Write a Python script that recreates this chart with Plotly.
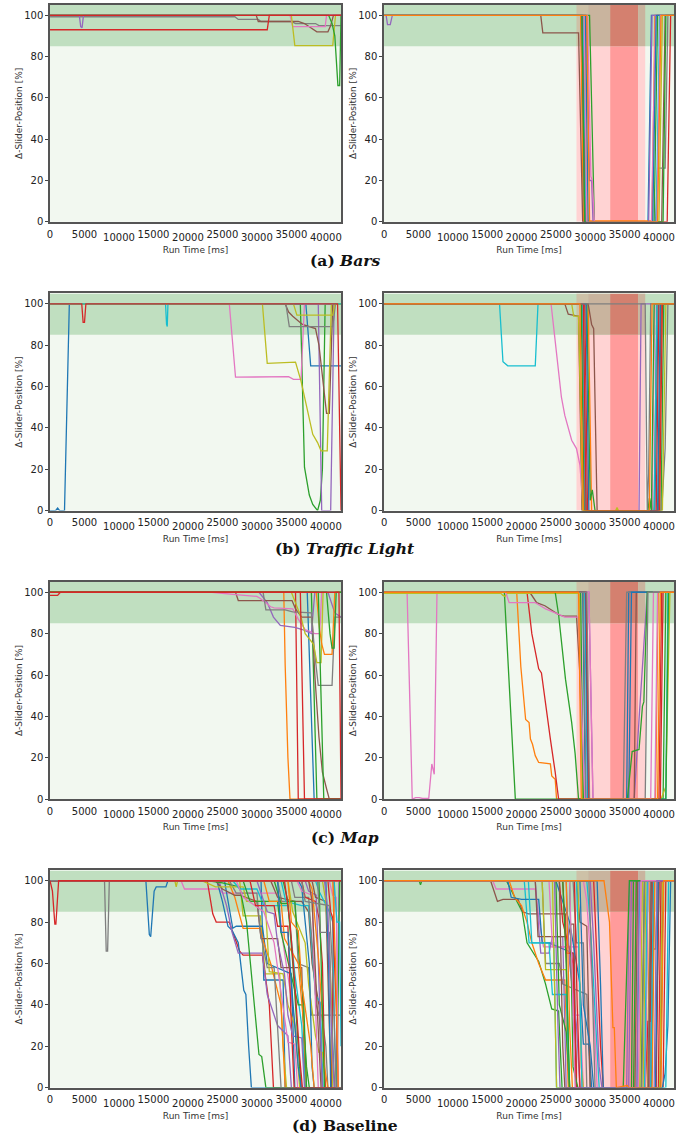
import plotly.graph_objects as go

# ---------------- data (time in seconds, value in %) ----------------
TAB10 = {"C0": "#1f77b4", "C1": "#ff7f0e", "C2": "#2ca02c", "C3": "#d62728", "C4": "#9467bd",
         "C5": "#8c564b", "C6": "#e377c2", "C7": "#7f7f7f", "C8": "#bcbd22", "C9": "#17becf"}

y_ticks = [0, 20, 40, 60, 80, 100]
x_ticks_upper = [0, 5000, 15000, 25000, 35000]
x_ticks_lower = [10000, 20000, 30000, 40000]
captions = ["<b>(a) <i>Bars</i></b>", "<b>(b) <i>Traffic Light</i></b>",
            "<b>(c) <i>Map</i></b>", "<b>(d) Baseline</b>"]
comfort_band = [85, 105]
warn_zone_s = [28.0, 38.0]
crit_zone_s = [32.9, 37.0]
warn_split_s = 29.7

# (a) Bars - left
bars_free_runs = [
    ([0, 42.2], [100, 100]),
    ([0, 42.2], [100, 100]),
    ([0, 42.2], [100, 100]),
    ([0, 26.8, 27.3, 30.2, 30.6, 35.0, 35.6, 38.5, 39.0, 42.2], [99.3, 99.3, 98, 98, 97, 97, 96, 96, 95, 95]),
    ([0, 29.9, 30.2, 36.0, 36.9, 37.9, 38.7, 40.3, 40.7, 41.1, 42.2], [100, 100, 97, 97, 96, 94, 92, 92, 95, 100, 100]),
    ([0, 34.8, 35.2, 39.9, 40.1, 42.2], [100, 100, 94.5, 94.5, 100, 100]),
    ([0, 35.0, 35.5, 41.0, 41.4, 42.2], [100, 100, 85.3, 85.3, 100, 100]),
    ([0, 4.25, 4.45, 4.65, 4.85, 42.2], [100, 100, 94.5, 94, 100, 100]),
    ([0, 40.4, 40.9, 41.3, 41.75, 42.0, 42.2], [100, 100, 96, 90, 66, 66, 100]),
    ([0, 31.5, 31.8, 42.2], [93, 93, 100, 100]),
    ([0, 42.2], [100, 100]),
]
bars_free_colors = ["C0", "C1", "C9", "C7", "C5", "C6", "C8", "C4", "C2", "C3", "C3"]

# (a) Bars - right
bars_crit_runs = [
    ([0, 28.7, 29.1, 38.4, 38.9, 42.2], [100, 100, 0, 0, 100, 100]),
    ([0, 28.6, 29.0, 39.0, 39.4, 42.2], [100, 100, 0.5, 0.5, 100, 100]),
    ([0, 29.9, 30.6, 39.3, 39.8, 42.2], [100, 100, 0, 0, 100, 100]),
    ([0, 28.9, 29.3, 41.2, 41.7, 42.2], [100, 100, 0, 0, 100, 100]),
    ([0, 0.3, 0.5, 0.9, 1.2, 29.4, 29.9, 30.2, 30.4, 38.5, 39.0, 42.2], [100, 100, 95.5, 95.5, 100, 100, 20, 20, 0, 0, 100, 100]),
    ([0, 22.8, 23.1, 28.3, 28.9, 40.4, 40.9, 42.2], [100, 100, 91.5, 91.5, 0, 0, 100, 100]),
    ([0, 29.6, 30.1, 30.3, 30.6, 38.9, 39.5, 42.2], [100, 100, 22, 20, 0, 0, 100, 100]),
    ([0, 29.1, 29.5, 39.5, 39.8, 40.9, 41.3, 42.2], [100, 100, 0, 0, 26, 26, 100, 100]),
    ([0, 29.2, 29.6, 40.0, 40.5, 42.2], [100, 100, 0, 0, 100, 100]),
    ([0, 29.0, 29.4, 39.6, 40.1, 42.2], [100, 100, 0, 0, 100, 100]),
    ([0, 29.3, 29.7, 39.1, 39.6, 42.2], [100, 100, 0, 0, 100, 100]),
    ([0, 28.8, 29.2, 40.6, 41.0, 42.2], [100, 100, 0, 0, 100, 100]),
    ([0, 29.1, 29.5, 39.7, 40.2, 42.2], [100, 100, 0, 0, 100, 100]),
    ([0, 29.5, 29.9, 39.8, 40.3, 42.2], [100, 100, 0, 0, 100, 100]),
]
bars_crit_colors = ["C0", "C1", "C2", "C3", "C4", "C5", "C6", "C7", "C8", "C9", "C0", "C2", "C6", "C1"]

# (b) Traffic Light - left
traffic_free_runs = [
    ([0, 0.8, 1.1, 1.4, 2.1, 2.8, 37.1, 37.8, 42.2], [0, 0, 1.2, 0, 0, 100, 100, 70, 70]),
    ([0, 42.2], [100, 100]),
    ([0, 36.3, 36.9, 37.6, 38.1, 38.8, 39.2, 39.5, 39.9, 42.2], [100, 100, 21, 7.5, 3, 0, 5, 20, 100, 100]),
    ([0, 38.9, 39.4, 40.7, 41.2, 42.2], [100, 100, 0, 0, 100, 100]),
    ([0, 34.1, 34.6, 35.2, 36.6, 37.6, 38.5, 39.0, 39.5, 40.1, 40.5, 40.7, 41.0, 42.2], [100, 100, 96, 94, 90, 89, 88, 80, 65, 47, 47, 70, 100, 100]),
    ([0, 26.0, 26.9, 34.6, 35.3, 36.4, 36.9, 42.2], [100, 100, 64.5, 64.8, 63.5, 63.5, 100, 100]),
    ([0, 34.2, 34.7, 41.0, 41.4, 42.2], [100, 100, 89, 89, 100, 100]),
    ([0, 30.8, 31.5, 35.6, 36.4, 36.9, 37.6, 38.1, 38.8, 39.3, 40.2, 40.8, 42.2], [100, 100, 71.2, 71.8, 62.6, 54.6, 43.4, 36.9, 32.9, 28.9, 28.9, 100, 100]),
    ([0, 35.3, 35.8, 41.0, 41.3, 42.2], [100, 100, 94.5, 94.5, 100, 100]),
    ([0, 16.75, 16.9, 17.0, 17.1, 42.2], [100, 100, 90, 89, 100, 100]),
    ([0, 4.6, 4.8, 5.0, 5.2, 41.7, 42.2], [100, 100, 91, 91, 100, 100, 0]),
]
traffic_free_colors = ["C0", "C1", "C2", "C4", "C5", "C6", "C7", "C8", "C8", "C9", "C3"]

# (b) Traffic Light - right
traffic_crit_runs = [
    ([0, 28.9, 29.3, 39.4, 39.9, 42.2], [100, 100, 0, 0, 100, 100]),
    ([0, 29.7, 30.2, 40.0, 40.4, 42.2], [100, 100, 0, 0, 100, 100]),
    ([0, 29.5, 30.0, 30.3, 30.7, 38.6, 38.9, 39.1, 40.3, 40.7, 42.2], [100, 100, 5, 10, 0, 0, 6, 0, 0, 100, 100]),
    ([0, 29.2, 29.6, 39.6, 40.0, 42.2], [100, 100, 0, 0, 100, 100]),
    ([0, 28.8, 29.2, 37.1, 37.4, 42.2], [100, 100, 0, 0, 100, 100]),
    ([0, 26.3, 26.8, 27.9, 28.3, 28.8, 39.3, 39.7, 42.2], [100, 100, 95, 94.5, 94, 0, 0, 100, 100]),
    ([0, 29.7, 30.2, 30.5, 31.0, 39.9, 40.3, 42.2], [100, 100, 90, 88, 0, 0, 100, 100]),
    ([0, 24.3, 24.8, 25.3, 25.8, 26.3, 26.9, 27.3, 28.0, 28.5, 29.0, 39.0, 39.4, 42.2], [100, 100, 85, 70, 55, 46, 38, 34, 30, 22, 0, 0, 100, 100]),
    ([0, 29.0, 29.4, 40.4, 40.9, 41.3, 42.2], [100, 100, 0, 0, 30, 100, 100]),
    ([0, 27.3, 27.6, 28.3, 28.9, 33.7, 33.9, 34.1, 40.5, 41.0, 42.2], [100, 100, 94, 94, 0, 0, 1.5, 0, 0, 100, 100]),
    ([0, 16.8, 17.3, 18.0, 22.0, 22.4, 28.9, 29.4, 39.3, 39.7, 42.2], [100, 100, 72, 70, 70, 100, 100, 0, 0, 100, 100]),
    ([0, 29.4, 29.8, 39.8, 40.2, 42.2], [100, 100, 0, 0, 100, 100]),
    ([0, 28.7, 29.1, 38.4, 38.6, 38.8, 38.9, 39.3, 42.2], [100, 100, 0, 0, 6, 0, 0, 100, 100]),
    ([0, 29.0, 29.4, 40.1, 40.5, 42.2], [100, 100, 0, 0, 100, 100]),
    ([0, 38.0, 38.3, 38.5, 38.8, 42.2], [100, 100, 0, 18, 100, 100]),
    ([0, 28.5, 28.7, 29.0, 38.6, 39.0, 42.2], [100, 100, 56, 0, 0, 100, 100]),
]
traffic_crit_colors = ["C0", "C1", "C2", "C3", "C4", "C5", "C5", "C6", "C7", "C8", "C9", "C0", "C2", "C3", "C7", "C1"]

# (c) Map - left
map_free_runs = [
    ([0, 37.3, 38.3, 42.2], [100, 100, 0, 0]),
    ([0, 33.9, 34.1, 34.5, 34.8, 42.2], [100, 100, 65, 20, 0, 0]),
    ([0, 37.9, 38.7, 42.2], [100, 100, 0, 0]),
    ([0, 35.6, 36.0, 42.2], [100, 100, 0, 0]),
    ([0, 30.3, 31.5, 32.4, 33.4, 35.5, 36.6, 37.9, 38.4, 40.3, 41.3, 42.2], [100, 100, 95, 88, 84, 83, 82, 80, 100, 100, 90, 88]),
    ([0, 26.9, 27.3, 35.1, 35.6, 36.5, 38.0, 38.4, 39.0, 39.5, 40.1, 40.5, 42.2], [100, 100, 96, 96, 92, 88, 88, 60, 30, 13, 5, 0, 0]),
    ([0, 23.5, 26.5, 30.0, 30.5, 32.0, 32.5, 35.2, 36.0, 37.0, 38.4, 39.1, 39.4, 42.2], [100, 100, 99, 98, 97, 93, 92.5, 92, 87, 82, 80, 80, 100, 100]),
    ([0, 30.9, 31.3, 34.1, 35.2, 37.9, 38.4, 38.9, 39.5, 40.9, 41.3, 42.2], [100, 100, 91.5, 91.5, 90.5, 90, 70, 55, 55, 55, 88, 88]),
    ([0, 35.0, 36.4, 37.0, 38.2, 38.7, 39.3, 39.6, 42.2], [100, 100, 88, 80, 75, 66, 66, 100, 100]),
    ([0, 42.2], [100, 100]),
    ([0, 38.6, 39.1, 39.4, 39.8, 40.9, 41.3, 42.2], [100, 100, 82, 75, 70, 70, 100, 100]),
    ([0, 38.9, 39.7, 42.2], [100, 100, 0, 0]),
    ([0, 40.1, 40.6, 40.9, 41.2, 41.5, 42.2], [100, 100, 80, 73, 73, 100, 100]),
    ([0, 36.3, 36.9, 42.2], [100, 100, 0, 0]),
    ([0, 1.1, 1.5, 41.9, 42.2], [98.5, 98.5, 100, 100, 0]),
]
map_free_colors = ["C0", "C1", "C2", "C3", "C4", "C5", "C6", "C7", "C8", "C9", "C1", "C2", "C2", "C3", "C3"]

# (c) Map - right
map_crit_runs = [
    ([0, 28.9, 29.3, 35.3, 35.6, 42.2], [100, 100, 0, 0, 100, 100]),
    ([0, 19.3, 19.9, 20.6, 21.1, 21.3, 21.6, 22.0, 22.5, 24.2, 24.4, 24.9, 25.1, 39.5, 39.9, 42.2], [100, 100, 64, 38.5, 37, 29, 26.5, 21, 17.7, 17, 11.2, 9.6, 0, 0, 100, 100]),
    ([0, 17.5, 19.1, 40.6, 41.0, 42.2], [100, 100, 0, 0, 100, 100]),
    ([0, 20.8, 21.5, 22.0, 22.5, 22.9, 23.5, 24.2, 24.9, 25.4, 40.0, 40.4, 42.2], [100, 100, 80, 71, 63, 61, 45, 29, 13, 0, 0, 100, 100]),
    ([0, 29.8, 30.4, 36.4, 37.1, 37.6, 38.3, 42.2], [100, 100, 0, 0, 38.5, 64, 100, 100]),
    ([0, 21.2, 22.2, 23.4, 25.5, 26.2, 28.0, 28.5, 29.0, 36.4, 36.7, 42.2], [100, 100, 95, 93.5, 89, 88.5, 88.5, 60, 0, 0, 100, 100]),
    ([0, 3.35, 4.1, 4.6, 5.1, 5.6, 6.5, 6.95, 7.3, 7.7, 29.8, 30.4, 39.4, 39.8, 42.2], [100, 100, 0, 0.7, 0.7, 0.3, 0.3, 17, 12, 100, 100, 0, 0, 100, 100]),
    ([0, 29.0, 29.4, 34.8, 35.3, 42.2], [100, 100, 0, 0, 100, 100]),
    ([0, 17.0, 17.3, 17.6, 17.9, 28.4, 28.9, 40.3, 41.0, 41.6, 42.2], [99.5, 99.5, 98.5, 98, 99.5, 99.5, 0, 0, 6, 100, 100]),
    ([0, 29.2, 29.6, 41.0, 41.3, 42.2], [100, 100, 0, 0, 100, 100]),
    ([0, 29.3, 29.7, 35.6, 36.0, 42.2], [100, 100, 0, 0, 100, 100]),
    ([0, 24.9, 25.4, 26.4, 27.3, 27.8, 28.3, 41.0, 41.4, 42.2], [100, 100, 89, 58, 37, 22, 0, 0, 100, 100]),
    ([0, 28.6, 29.0, 35.4, 36.1, 37.1, 37.6, 37.8, 38.3, 42.2], [100, 100, 0, 0, 23, 24, 45, 47, 100, 100]),
    ([0, 29.4, 29.8, 40.2, 40.6, 42.2], [100, 100, 0, 0, 100, 100]),
    ([0, 17.7, 18.2, 22.0, 22.5, 23.5, 24.9, 26.3, 28.3, 28.6, 29.2, 38.8, 39.2, 42.2], [100, 100, 95, 95, 94, 92, 90, 88, 88, 60, 0, 0, 100, 100]),
    ([0, 29.5, 29.9, 38.0, 38.4, 42.2], [100, 100, 0, 0, 100, 100]),
    ([0, 28.3, 28.7, 39.8, 40.2, 42.2], [100, 100, 0, 0, 100, 100]),
]
map_crit_colors = ["C0", "C1", "C2", "C3", "C4", "C5", "C6", "C7", "C8", "C9", "C0", "C2", "C2", "C3", "C6", "C7", "C1"]

# (d) Baseline - left
base_free_runs = [
    ([0, 7.9, 8.15, 8.35, 8.6, 33.0, 33.6, 35.5, 36.0, 37.5, 37.9, 38.3, 42.2], [100, 100, 66, 66, 100, 100, 90, 90, 60, 58, 35, 35, 35]),
    ([0, 13.9, 14.4, 14.6, 15.1, 15.4, 16.8, 17.1, 30.6, 31.0, 33.8, 34.1, 42.2], [100, 100, 74, 73, 95, 97, 97, 100, 100, 52, 52, 0, 0]),
    ([0, 18.1, 18.3, 18.5, 27.5, 28.0, 30.5, 31.2, 33.3, 33.8, 34.3, 42.2], [100, 100, 97, 100, 100, 83, 83, 55, 55, 20, 0, 0]),
    ([0, 19.0, 19.5, 24.5, 25.0, 33.0, 33.8, 36.0, 36.5, 42.2], [100, 100, 96, 96, 94, 94, 70, 20, 0, 0]),
    ([0, 22.8, 23.3, 23.6, 24.1, 26.0, 26.5, 27.0, 27.5, 28.0, 30.8, 31.8, 32.4, 42.2], [100, 100, 90, 84, 80, 80, 75, 70, 66, 64, 64, 40, 0, 0]),
    ([0, 24.2, 25.0, 25.8, 26.4, 27.3, 28.1, 28.4, 28.8, 29.2, 42.2], [100, 100, 90, 78, 76, 70, 47, 45, 20, 0, 0]),
    ([0, 25.3, 26.5, 27.0, 30.8, 31.5, 35.0, 35.5, 42.2], [100, 100, 77, 78, 78, 60, 55, 0, 0]),
    ([0, 25.8, 26.8, 28.0, 30.5, 31.0, 32.0, 33.5, 34.1, 42.2], [100, 100, 92, 77, 77, 70, 60, 40, 0, 0]),
    ([0, 24.5, 25.6, 26.4, 27.3, 30.8, 31.5, 33.0, 34.5, 35.0, 42.2], [100, 100, 88, 75, 65, 65, 45, 30, 25, 0, 0]),
    ([0, 24.0, 25.0, 26.8, 27.5, 30.0, 30.6, 33.0, 33.5, 36.5, 37.0, 42.2], [100, 100, 96, 93, 93, 90, 72, 72, 58, 58, 0, 0]),
    ([0, 23.0, 25.0, 27.5, 28.5, 29.5, 30.3, 30.7, 31.3, 42.2], [100, 100, 99, 97, 80, 45, 16, 15, 0, 0]),
    ([0, 26.0, 27.0, 30.0, 30.5, 31.5, 32.5, 33.0, 33.5, 42.2], [100, 100, 94, 94, 75, 58, 58, 30, 0, 0]),
    ([0, 22.0, 24.0, 28.0, 28.5, 31.2, 31.8, 33.8, 34.5, 35.5, 36.2, 42.2], [100, 100, 97, 97, 90, 90, 56, 55, 40, 30, 0, 0]),
    ([0, 26.5, 27.5, 30.0, 31.0, 34.5, 35.5, 36.5, 37.0, 42.2], [100, 100, 96, 96, 88, 88, 55, 30, 0, 0]),
    ([0, 28.0, 29.0, 33.0, 33.5, 35.5, 36.0, 36.6, 37.2, 37.6, 42.2], [100, 100, 90, 90, 75, 48, 40, 40, 10, 0, 0]),
    ([0, 27.0, 28.0, 31.0, 32.5, 33.5, 34.5, 35.5, 35.9, 42.2], [100, 100, 92, 85, 70, 45, 22, 21, 0, 0]),
    ([0, 29.0, 29.8, 32.5, 33.0, 34.5, 35.0, 35.4, 42.2], [100, 100, 88, 88, 78, 78, 30, 0, 0]),
    ([0, 30.0, 31.5, 32.5, 33.0, 34.0, 34.5, 35.2, 36.5, 36.9, 42.2], [100, 100, 85, 84, 70, 55, 35, 25, 24, 0, 0]),
    ([0, 31.0, 31.8, 33.5, 34.0, 36.0, 36.8, 37.2, 42.2], [100, 100, 90, 90, 72, 60, 30, 0, 0]),
    ([0, 32.0, 33.0, 35.5, 36.5, 37.5, 38.0, 39.0, 39.5, 42.2], [100, 100, 92, 90, 90, 85, 60, 40, 0, 0]),
    ([0, 33.5, 34.2, 36.5, 37.5, 38.5, 39.2, 39.6, 42.2], [100, 100, 90, 88, 88, 45, 41, 0, 0]),
    ([0, 34.5, 35.2, 37.0, 37.5, 38.5, 39.0, 39.5, 40.0, 42.2], [100, 100, 85, 70, 50, 25, 17, 17, 0, 0]),
    ([0, 35.0, 35.5, 37.5, 38.0, 38.6, 39.0, 39.4, 40.0, 40.3, 42.2], [100, 100, 92, 92, 70, 40, 35, 35, 20, 0, 0]),
    ([0, 33.8, 34.5, 35.5, 36.2, 36.8, 37.2, 42.2], [100, 100, 90, 90, 60, 40, 0, 0]),
    ([0, 36.0, 36.5, 37.6, 38.0, 38.3, 42.2], [100, 100, 97, 60, 10, 0, 0]),
    ([0, 36.5, 37.0, 38.5, 39.0, 39.5, 39.9, 40.8, 41.2, 42.2], [100, 100, 92, 90, 82, 60, 0, 0, 100, 100]),
    ([0, 35.8, 36.5, 38.0, 38.5, 38.9, 42.2], [100, 100, 95, 93, 40, 0, 0]),
    ([0, 37.0, 37.5, 38.6, 39.2, 39.5, 41.5, 41.9, 42.2], [100, 100, 95, 93, 30, 0, 0, 100, 100]),
    ([0, 37.5, 38.0, 39.0, 39.4, 39.8, 40.3, 42.2], [100, 100, 96, 60, 40, 10, 0, 0]),
    ([0, 38.0, 38.5, 40.0, 40.5, 40.8, 42.2], [100, 100, 92, 90, 30, 0, 0]),
    ([0, 38.5, 39.0, 40.5, 41.0, 41.3, 41.6, 42.2], [100, 100, 95, 85, 80, 20, 0, 0]),
    ([0, 39.0, 39.4, 39.8, 41.6, 42.0, 42.2], [100, 100, 50, 0, 0, 100, 100]),
    ([0, 38.8, 39.2, 40.5, 40.9, 41.3, 42.2], [100, 100, 75, 75, 30, 0, 0]),
    ([0, 39.5, 40.0, 40.7, 41.0, 42.2], [100, 100, 90, 50, 0, 0]),
    ([0, 40.0, 40.4, 40.7, 42.2], [100, 100, 60, 0, 0]),
    ([0, 40.3, 40.7, 41.0, 41.5, 41.8, 42.2], [100, 100, 85, 82, 40, 0, 0]),
    ([0, 40.5, 41.0, 41.5, 41.8, 42.2], [100, 100, 93, 92, 0, 0]),
    ([0, 41.0, 41.4, 41.8, 42.2], [100, 100, 60, 0, 0]),
    ([0, 39.8, 40.3, 40.8, 41.2, 42.2], [100, 100, 85, 30, 0, 0]),
    ([0, 41.2, 41.6, 42.0, 42.2], [100, 100, 80, 80, 20]),
    ([0, 37.5, 38.0, 38.5, 38.9, 39.3, 42.2], [100, 100, 90, 55, 30, 0, 0]),
    ([0, 32.5, 33.5, 34.5, 35.2, 35.8, 36.4, 42.2], [100, 100, 89, 89, 60, 30, 0, 0]),
    ([0, 34.5, 35.0, 36.0, 36.5, 37.8, 38.3, 42.2], [100, 100, 80, 76, 50, 20, 0, 0]),
    ([0, 33.0, 33.5, 34.5, 35.0, 36.0, 36.4, 42.2], [100, 100, 75, 75, 50, 10, 0, 0]),
    ([0, 34.0, 34.8, 35.5, 36.2, 36.6, 42.2], [100, 100, 80, 50, 15, 0, 0]),
    ([0, 36.5, 37.0, 40.5, 41.0, 41.5, 42.2], [100, 100, 90, 88, 55, 0, 0]),
    ([0, 0.35, 0.7, 0.85, 1.25, 42.2], [100, 95, 79, 79, 100, 100]),
]
base_free_colors = ["C7", "C0", "C8", "C6", "C3", "C0", "C0", "C1", "C4", "C5", "C2", "C7", "C8", "C9",
                    "C2", "C6", "C3", "C4", "C1", "C5", "C9", "C8", "C7", "C2", "C0", "C3", "C6", "C4",
                    "C1", "C5", "C9", "C2", "C7", "C8", "C0", "C3", "C6", "C1", "C4", "C9", "C5", "C2",
                    "C1", "C0", "C3", "C7", "C3"]

# (d) Baseline - right
base_crit_runs = [
    ([0, 5.1, 5.3, 5.5, 17.8, 20.1, 20.8, 22.5, 23.5, 24.4, 25.4, 25.9, 37.4, 37.9, 42.2], [100, 100, 98, 100, 100, 85, 70, 61, 50, 38, 37, 0, 0, 100, 100]),
    ([0, 15.5, 16.5, 17.3, 19.5, 20.2, 21.0, 26.4, 26.9, 39.5, 40.0, 42.2], [100, 100, 90, 91, 91, 85, 84, 84, 0, 0, 100, 100]),
    ([0, 15.8, 16.3, 22.0, 22.6, 23.2, 28.3, 28.8, 38.6, 39.0, 42.2], [100, 100, 96, 96, 80, 68, 68, 0, 0, 100, 100]),
    ([0, 18.2, 19.0, 20.0, 20.8, 21.5, 22.5, 23.5, 26.3, 26.8, 38.3, 38.7, 42.2], [100, 100, 92, 88, 80, 70, 60, 52, 52, 0, 0, 100, 100]),
    ([0, 20.4, 21.1, 24.7, 25.1, 36.8, 37.2, 42.2], [100, 100, 70, 70, 0, 0, 100, 100]),
    ([0, 18.0, 18.5, 20.0, 22.5, 23.0, 24.0, 27.5, 28.0, 38.9, 39.3, 42.2], [100, 100, 92, 91, 91, 70, 70, 65, 0, 0, 100, 100]),
    ([0, 22.0, 22.5, 22.8, 24.0, 24.5, 26.0, 26.5, 35.3, 35.7, 42.2], [100, 100, 77, 65, 65, 73, 73, 0, 0, 100, 100]),
    ([0, 22.0, 22.4, 26.8, 27.2, 27.6, 28.0, 40.2, 40.6, 42.2], [100, 100, 73, 73, 79, 79, 0, 0, 100, 100]),
    ([0, 23.0, 23.5, 25.5, 26.0, 29.5, 30.0, 38.7, 39.0, 39.5, 39.8, 42.2], [100, 100, 60, 60, 50, 45, 0, 0, 67, 67, 100, 100]),
    ([0, 23.0, 23.5, 26.5, 27.0, 37.7, 38.1, 42.2], [100, 100, 57, 57, 0, 0, 100, 100]),
    ([0, 24.0, 24.5, 27.0, 27.5, 28.5, 29.0, 36.0, 36.4, 42.2], [100, 100, 68, 68, 35, 35, 0, 0, 100, 100]),
    ([0, 25.0, 26.0, 27.0, 28.5, 29.0, 29.8, 30.2, 38.0, 38.4, 42.2], [100, 100, 90, 80, 50, 21, 21, 0, 0, 100, 100]),
    ([0, 25.5, 26.0, 27.5, 28.0, 38.0, 38.4, 38.7, 39.1, 42.2], [100, 100, 80, 60, 0, 0, 32, 32, 100, 100]),
    ([0, 25.0, 25.5, 26.5, 27.0, 36.0, 36.3, 42.2], [100, 100, 40, 27, 0, 0, 100, 100]),
    ([0, 21.0, 21.5, 24.0, 24.5, 26.5, 27.0, 38.8, 39.2, 42.2], [100, 100, 70, 70, 45, 45, 0, 0, 100, 100]),
    ([0, 26.5, 27.0, 28.0, 28.5, 35.6, 36.0, 42.2], [100, 100, 60, 30, 0, 0, 100, 100]),
    ([0, 26.0, 26.5, 27.5, 28.0, 39.6, 40.0, 42.2], [100, 100, 65, 65, 0, 0, 100, 100]),
    ([0, 24.5, 25.1, 37.2, 37.6, 42.2], [100, 100, 0, 0, 100, 100]),
    ([0, 27.5, 28.0, 29.0, 29.5, 37.5, 37.9, 42.2], [100, 100, 70, 70, 0, 0, 100, 100]),
    ([0, 28.0, 28.5, 29.5, 30.0, 36.5, 36.9, 42.2], [100, 100, 80, 78, 0, 0, 100, 100]),
    ([0, 28.5, 29.0, 30.0, 30.5, 39.5, 39.9, 42.2], [100, 100, 40, 20, 0, 0, 100, 100]),
    ([0, 27.0, 27.5, 28.2, 34.8, 35.3, 35.7, 42.2], [100, 100, 10, 0, 0, 50, 100, 100]),
    ([0, 29.0, 29.5, 30.5, 31.0, 38.0, 38.4, 42.2], [100, 100, 90, 40, 0, 0, 100, 100]),
    ([0, 29.5, 30.0, 31.0, 31.3, 37.9, 38.3, 42.2], [100, 100, 80, 20, 0, 0, 100, 100]),
    ([0, 30.0, 30.5, 31.3, 31.7, 36.8, 37.1, 42.2], [100, 100, 70, 10, 0, 0, 100, 100]),
    ([0, 30.5, 31.0, 31.5, 31.9, 40.6, 41.0, 42.2], [100, 100, 60, 20, 0, 0, 100, 100]),
    ([0, 26.5, 27.0, 27.4, 39.0, 39.4, 42.2], [100, 100, 30, 0, 0, 100, 100]),
    ([0, 28.2, 28.7, 29.0, 40.1, 40.5, 42.2], [100, 100, 10, 0, 0, 100, 100]),
    ([0, 29.8, 30.3, 30.7, 38.4, 38.8, 42.2], [100, 100, 50, 0, 0, 100, 100]),
    ([0, 31.0, 31.5, 31.9, 40.5, 40.9, 41.3, 41.7, 42.2], [100, 100, 50, 0, 0, 7, 30, 100, 100]),
    ([0, 26.0, 26.5, 27.0, 36.3, 36.7, 42.2], [100, 100, 60, 0, 0, 100, 100]),
    ([0, 25.5, 26.0, 26.3, 38.5, 38.9, 42.2], [100, 100, 20, 0, 0, 100, 100]),
    ([0, 27.0, 27.4, 27.8, 37.0, 37.4, 42.2], [100, 100, 50, 0, 0, 100, 100]),
    ([0, 27.7, 28.1, 28.5, 39.9, 40.3, 42.2], [100, 100, 40, 0, 0, 100, 100]),
    ([0, 28.0, 28.4, 28.8, 41.0, 41.4, 42.2], [100, 100, 60, 0, 0, 100, 100]),
    ([0, 24.8, 25.3, 25.6, 39.3, 39.7, 42.2], [100, 100, 30, 0, 0, 100, 100]),
    ([0, 32.0, 32.8, 33.3, 33.5, 33.8, 35.4, 35.6, 40.3, 40.7, 42.2], [100, 100, 80, 29, 29, 0, 1, 0, 0, 100, 100]),
]
base_crit_colors = ["C2", "C5", "C6", "C1", "C9", "C0", "C4", "C5", "C7", "C8", "C6", "C0", "C3", "C2",
                    "C9", "C4", "C3", "C8", "C7", "C5", "C0", "C2", "C6", "C9", "C4", "C3", "C1", "C8",
                    "C7", "C0", "C2", "C5", "C6", "C3", "C9", "C4", "C1"]

panels = [
    (bars_free_runs, bars_free_colors, False), (bars_crit_runs, bars_crit_colors, True),
    (traffic_free_runs, traffic_free_colors, False), (traffic_crit_runs, traffic_crit_colors, True),
    (map_free_runs, map_free_colors, False), (map_crit_runs, map_crit_colors, True),
    (base_free_runs, base_free_colors, False), (base_crit_runs, base_crit_colors, True),
]

# ---------------- layout ----------------
W, H = 688, 1145
X_RANGE = [0, 42200]
XPIX = [(47.3, 340.0), (383.3, 675.0)]
YPIX = [(5, 223), (295, 513.3), (585, 803.3), (875, 1093.3)]
CAPTION_Y = [262, 551, 842, 1131]

BG = "#f2f8f0"
BAND = "#c0dfc0"
PINK = "#ffd3d3"
SALMON = "#ff9b9b"
TAN_LIGHT = "#cdc1a7"
TAN = "#c9b49e"
DARK = "#d4806f"
AXIS_FONT = dict(family="DejaVu Sans", size=10, color="#222")
TITLE_FONT = dict(family="DejaVu Sans", size=9, color="#333")

fig = go.Figure()
shapes = []
layout = {}
for i, (runs, cols, crit) in enumerate(panels):
    k = i + 1
    row, col = divmod(i, 2)
    xa = "x" if k == 1 else f"x{k}"
    ya = "y" if k == 1 else f"y{k}"
    for (t, v), c in zip(runs, cols):
        fig.add_trace(go.Scatter(x=[s * 1000 for s in t], y=v, mode="lines",
                                 line=dict(color=TAB10[c], width=1.3),
                                 xaxis=xa, yaxis=ya, showlegend=False, hoverinfo="skip"))
    # invisible carrier so the second (staggered-label) x axis gets drawn
    fig.add_trace(go.Scatter(x=[X_RANGE[0]], y=[-50], mode="markers", marker=dict(opacity=0),
                             xaxis=f"x{k + 8}", yaxis=ya, showlegend=False, hoverinfo="skip"))
    x0p, x1p = XPIX[col]
    t0p, b0p = YPIX[row]
    layout[f"xaxis{k}"] = dict(
        domain=[x0p / W, x1p / W], anchor=ya, range=X_RANGE,
        tickvals=x_ticks_upper, ticktext=[str(v) for v in x_ticks_upper],
        ticks="", ticklabelstandoff=2, tickfont=AXIS_FONT,
        showline=True, mirror=True, linecolor="#555", linewidth=1.5,
        showgrid=False, zeroline=False,
        title=dict(text="Run Time [ms]", font=TITLE_FONT, standoff=8))
    layout[f"xaxis{k + 8}"] = dict(
        overlaying=xa, anchor=ya, side="bottom", range=X_RANGE,
        tickvals=x_ticks_lower, ticktext=[str(v) for v in x_ticks_lower],
        ticks="", ticklabelstandoff=8, tickfont=AXIS_FONT,
        showline=False, showgrid=False, zeroline=False)
    layout[f"yaxis{k}"] = dict(
        domain=[1 - b0p / H, 1 - t0p / H], anchor=xa, range=[0, 105],
        tickvals=y_ticks, ticks="outside", ticklen=3, tickcolor="#444",
        tickfont=AXIS_FONT, showline=True, mirror=True, linecolor="#555", linewidth=1.5,
        showgrid=False, zeroline=False,
        title=dict(text="Δ-Slider-Position [%]", font=TITLE_FONT, standoff=0))
    shapes.append(dict(type="rect", xref=f"{xa} domain", yref=ya, x0=0, x1=1,
                       y0=comfort_band[0], y1=comfort_band[1], fillcolor=BAND,
                       line=dict(width=0), layer="below"))
    if crit:
        segs = [(warn_zone_s[0], warn_split_s, PINK, TAN_LIGHT),
                (warn_split_s, crit_zone_s[0], PINK, TAN),
                (crit_zone_s[0], crit_zone_s[1], SALMON, DARK),
                (crit_zone_s[1], warn_zone_s[1], PINK, TAN)]
        for a, b, low, high in segs:
            shapes.append(dict(type="rect", xref=xa, yref=ya, x0=a * 1000, x1=b * 1000,
                               y0=0, y1=comfort_band[0], fillcolor=low,
                               line=dict(width=0), layer="below"))
            shapes.append(dict(type="rect", xref=xa, yref=ya, x0=a * 1000, x1=b * 1000,
                               y0=comfort_band[0], y1=comfort_band[1], fillcolor=high,
                               line=dict(width=0), layer="below"))

annotations = []
for r, cap in enumerate(captions):
    annotations.append(dict(text=cap, xref="paper", yref="paper", x=0.5, y=1 - CAPTION_Y[r] / H,
                            xanchor="center", yanchor="middle", showarrow=False,
                            font=dict(family="DejaVu Serif", size=15.5, color="#111")))

fig.update_layout(width=W, height=H, margin=dict(l=0, r=0, t=0, b=0),
                  paper_bgcolor="white", plot_bgcolor=BG, shapes=shapes,
                  annotations=annotations, **layout)
fig.write_html("out.html", config={"displayModeBar": False},
               post_script="document.body.style.margin='0';")
